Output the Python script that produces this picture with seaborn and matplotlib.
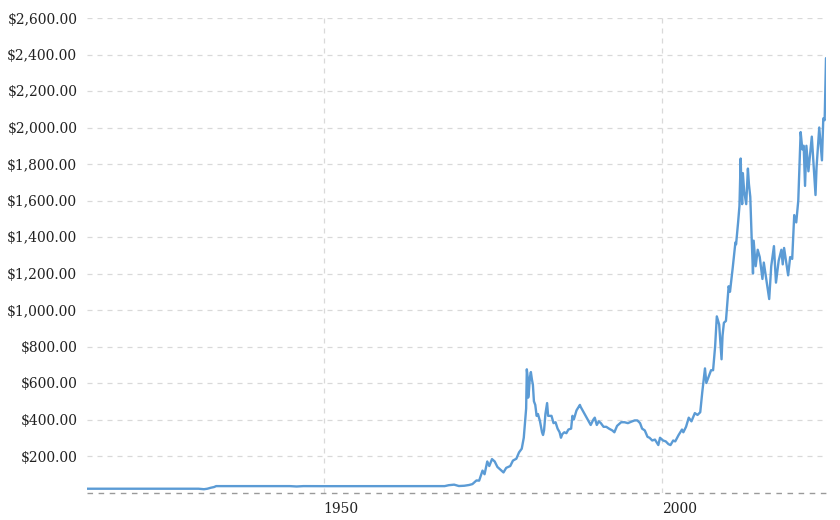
import matplotlib
matplotlib.use("Agg")
import matplotlib.pyplot as plt
import seaborn as sns
import pandas as pd
from matplotlib.ticker import FuncFormatter, FixedLocator

years = [1915.0, 1931.5, 1932.3, 1932.8, 1933.3, 1933.8, 1934.1, 1940.0, 1945.0, 1946.0, 1947.0,
         1950.0, 1960.0, 1967.9,
         1968.5, 1969.3, 1970.0, 1970.8, 1971.5, 1972.0, 1972.6, 1973.0, 1973.5, 1973.8,
         1974.2, 1974.5, 1974.9, 1975.3, 1975.7, 1976.0, 1976.6, 1977.0, 1977.6, 1978.0,
         1978.5, 1978.9, 1979.3, 1979.6, 1979.8, 1979.95, 1980.05, 1980.15, 1980.25, 1980.35,
         1980.5, 1980.65, 1980.8, 1980.95, 1981.1, 1981.3, 1981.5, 1981.7, 1982.0, 1982.3,
         1982.45, 1982.6, 1982.8, 1983.05, 1983.2, 1983.5, 1983.7, 1984.0, 1984.3, 1984.6,
         1984.9, 1985.1, 1985.3, 1985.6, 1985.9, 1986.2, 1986.6, 1986.8, 1987.0, 1987.4,
         1987.9, 1988.0, 1988.3, 1988.6, 1988.9, 1989.2, 1989.5, 1989.9, 1990.1, 1990.4,
         1990.7, 1991.0, 1991.4, 1991.8, 1992.2, 1992.7, 1993.0, 1993.4, 1993.7, 1994.0,
         1994.5, 1995.0, 1995.5, 1996.0, 1996.4, 1996.8, 1997.1, 1997.5, 1997.9, 1998.2,
         1998.6, 1999.0, 1999.5, 1999.75, 1999.9, 2000.2, 2000.6, 2001.0, 2001.3, 2001.7,
         2002.0, 2002.5, 2003.0, 2003.2, 2003.6, 2004.0, 2004.4, 2004.9, 2005.3, 2005.7,
         2006.0, 2006.4, 2006.6, 2006.9, 2007.3, 2007.6, 2007.9, 2008.15, 2008.5, 2008.85,
         2009.0, 2009.2, 2009.5, 2009.9, 2010.1, 2010.5, 2010.9, 2011.0, 2011.3, 2011.5,
         2011.68, 2011.8, 2011.9, 2012.0, 2012.2, 2012.5, 2012.75, 2012.9, 2013.1, 2013.3,
         2013.5, 2013.6, 2013.9, 2014.2, 2014.5, 2014.9, 2015.1, 2015.5, 2015.9, 2016.2,
         2016.6, 2016.9, 2017.3, 2017.7, 2017.9, 2018.1, 2018.7, 2019.0, 2019.3, 2019.6,
         2019.9, 2020.2, 2020.55, 2020.8, 2021.0, 2021.2, 2021.4, 2021.7, 2022.2, 2022.75,
         2022.9, 2023.3, 2023.7, 2023.9, 2024.1, 2024.3]
prices = [20.7, 20.7, 18.0, 20.7, 26.0, 30.0, 35.0, 35.0, 35.0, 33.0, 35.0,
          34.7, 35.2, 35.0,
          40.0, 43.0, 35.5, 37.0, 41.0, 46.0, 66.0, 65.0, 120.0, 100.0,
          170.0, 145.0, 183.0, 170.0, 140.0, 130.0, 110.0, 135.0, 145.0, 175.0,
          185.0, 220.0, 240.0, 300.0, 390.0, 460.0, 675.0, 640.0, 520.0, 550.0,
          630.0, 660.0, 620.0, 590.0, 500.0, 480.0, 420.0, 430.0, 390.0, 330.0,
          315.0, 340.0, 430.0, 490.0, 420.0, 420.0, 420.0, 380.0, 385.0, 350.0,
          330.0, 300.0, 320.0, 330.0, 325.0, 345.0, 350.0, 420.0, 400.0, 450.0,
          480.0, 470.0, 450.0, 430.0, 410.0, 390.0, 370.0, 400.0, 410.0, 370.0,
          390.0, 380.0, 360.0, 360.0, 350.0, 340.0, 330.0, 365.0, 375.0, 385.0,
          385.0, 380.0, 388.0, 395.0, 395.0, 380.0, 350.0, 340.0, 305.0, 300.0,
          285.0, 290.0, 260.0, 300.0, 295.0, 285.0, 280.0, 265.0, 260.0, 285.0,
          280.0, 315.0, 345.0, 330.0, 360.0, 410.0, 390.0, 435.0, 425.0, 440.0,
          550.0, 680.0, 600.0, 630.0, 670.0, 670.0, 800.0, 965.0, 920.0, 730.0,
          860.0, 930.0, 940.0, 1130.0, 1100.0, 1230.0, 1370.0, 1360.0, 1480.0, 1570.0,
          1830.0, 1660.0, 1580.0, 1750.0, 1650.0, 1580.0, 1775.0, 1690.0, 1620.0, 1400.0,
          1200.0, 1380.0, 1240.0, 1330.0, 1290.0, 1170.0, 1260.0, 1160.0, 1060.0, 1240.0,
          1350.0, 1150.0, 1270.0, 1330.0, 1250.0, 1340.0, 1190.0, 1290.0, 1280.0, 1520.0,
          1480.0, 1600.0, 1975.0, 1880.0, 1900.0, 1680.0, 1900.0, 1760.0, 1950.0, 1630.0,
          1780.0, 2000.0, 1820.0, 2050.0, 2040.0, 2380.0]

y_ticks = [200, 400, 600, 800, 1000, 1200, 1400, 1600, 1800, 2000, 2200, 2400, 2600]
x_ticks = [1950, 2000]

df = pd.DataFrame({"year": years, "price": prices})

sns.set_style("white")
plt.rcParams["font.family"] = ["DejaVu Serif"]

fig = plt.figure(figsize=(8.4, 5.2), dpi=100)
ax = fig.add_axes([87 / 840, 1 - 492.5 / 520, (826 - 87) / 840, (492.5 - 18) / 520])

sns.lineplot(data=df, x="year", y="price", ax=ax, color="#5b9bd5", linewidth=1.7)

ax.set_xlim(1915.0, 2024.3)
ax.set_ylim(0, 2600)
ax.yaxis.set_major_locator(FixedLocator(y_ticks))
ax.xaxis.set_major_locator(FixedLocator(x_ticks))
ax.yaxis.set_major_formatter(FuncFormatter(lambda v, p: f"${v:,.2f}"))
ax.set_xlabel("")
ax.set_ylabel("")

for v in y_ticks:
    ax.axhline(v, color="#d9d9d9", linewidth=0.9, linestyle=(0, (4, 4)), zorder=0)
for v in x_ticks:
    ax.axvline(v, color="#d9d9d9", linewidth=0.9, linestyle=(0, (4, 4)), zorder=0)
ax.axhline(0, color="#9a9a9a", linewidth=1.0, linestyle=(0, (4, 4)), zorder=1, clip_on=False)

for s in ax.spines.values():
    s.set_visible(False)

ax.tick_params(axis="y", length=0, pad=7, labelsize=10, labelcolor="#222222")
ax.tick_params(axis="x", length=0, pad=7, labelsize=10, labelcolor="#222222")
for lbl in ax.get_xticklabels():
    lbl.set_horizontalalignment("left")

fig.savefig("out.png", dpi=100)
